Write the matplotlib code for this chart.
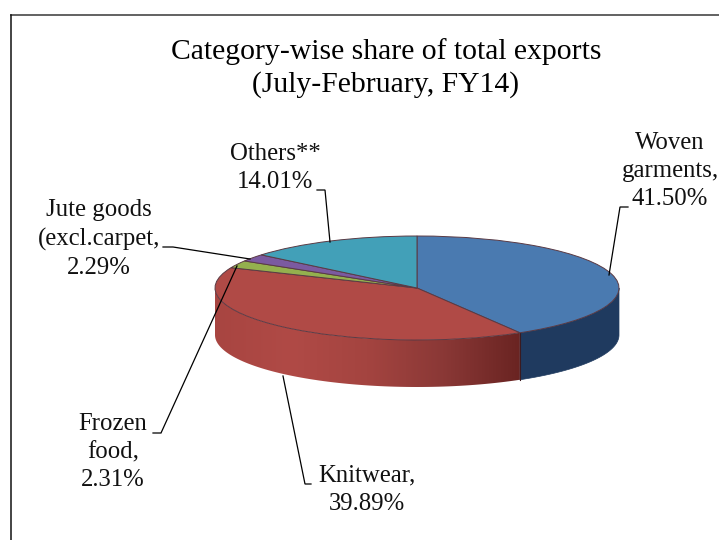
import matplotlib
matplotlib.use('Agg')
import matplotlib.pyplot as plt
from matplotlib.colors import LinearSegmentedColormap
from matplotlib.patches import Polygon
import numpy as np

plt.rcParams['font.family'] = ['Liberation Serif', 'DejaVu Serif']

categories = ['Woven garments', 'Knitwear', 'Frozen food', 'Jute goods (excl.carpet', 'Others**']
shares = [41.50, 39.89, 2.31, 2.29, 14.01]
top_colors = ['#4A7AB0', '#B04A46', '#94B04E', '#7B5AA0', '#42A0B8']

title = 'Category-wise share of total exports\n(July-February, FY14)'
labels = ['Woven\ngarments,\n41.50%', 'Knitwear,\n39.89%', 'Frozen\nfood,\n2.31%',
          'Jute goods\n(excl.carpet,\n2.29%', 'Others**\n14.01%']
label_pos = [(670, 171), (367, 490), (113, 452), (99, 239), (275, 168)]
leaders = [
    [(628, 207), (620, 207), (609, 275)],
    [(311, 484), (305, 484), (283, 376)],
    [(153, 433), (161, 433), (237, 266)],
    [(163, 247), (173, 247), (250, 259)],
    [(317, 190), (325, 190), (330, 242)],
]

W, H = 719, 540
cx, cy, rx, ry, depth = 417, 288, 202, 52, 47

fig = plt.figure(figsize=(W / 100, H / 100), dpi=100)

# pie axes: unit circle squashed to the ellipse on the page
ax = fig.add_axes([0, 0, 1, 1])
ax.axis('off')
drop = depth / ry

edges = 90 - 3.6 * np.cumsum([0] + shares)


def wall(a0, a1):
    t = np.radians(np.linspace(a0, a1, 80))
    x, y = np.cos(t), np.sin(t)
    return np.column_stack([np.r_[x, x[::-1]], np.r_[y, y[::-1] - drop]])


# blue side wall, east edge to the blue/red join
ax.add_patch(Polygon(wall(0, edges[1]), closed=True, fc='#1F3A5F', ec='#1F3A5F', lw=0.5))

# red side wall with gradient, join to the west edge
red_poly = Polygon(wall(edges[1], -180), closed=True, fc='none', ec='none')
ax.add_patch(red_poly)
grad = LinearSegmentedColormap.from_list(
    'redwall', ['#A84541', '#B04A46', '#A44440', '#8A3836', '#6A2422'])
join_x = np.cos(np.radians(edges[1]))
join_y = np.sin(np.radians(edges[1]))
im = ax.imshow(np.linspace(0, 1, 256).reshape(1, -1), cmap=grad, aspect='auto',
               extent=[-1, join_x, -1 - drop, 0.2], zorder=1)
im.set_clip_path(red_poly)
ax.plot([join_x, join_x], [join_y, join_y - drop], color='#3A1A20', lw=0.8, zorder=2)

# top face
wedges, _ = ax.pie(shares, colors=top_colors, startangle=90, counterclock=False, radius=1,
                   wedgeprops={'edgecolor': '#5A3A44', 'linewidth': 0.7, 'zorder': 3})
ax.set_aspect('auto')
ax.set_xlim(-cx / rx, (W - cx) / rx)
ax.set_ylim((cy - H) / ry, cy / ry)

# overlay in page pixels for frame, labels and leader lines
ov = fig.add_axes([0, 0, 1, 1], facecolor='none')
ov.set_xlim(0, W)
ov.set_ylim(H, 0)
ov.axis('off')
ov.plot([11, W], [15, 15], color='#555555', lw=1.3)
ov.plot([11, 11], [15, H], color='#111111', lw=1.1)
ov.text(386, 68, title, ha='center', va='center', fontsize=21.3, linespacing=1.33)
for lab, (x, y) in zip(labels, label_pos):
    ov.text(x, y, lab, ha='center', va='center', fontsize=17.8, linespacing=1.36, color='#111111')
for pts in leaders:
    ov.plot(*zip(*pts), color='black', lw=0.9, solid_joinstyle='miter')

fig.savefig('out.png', dpi=100)
